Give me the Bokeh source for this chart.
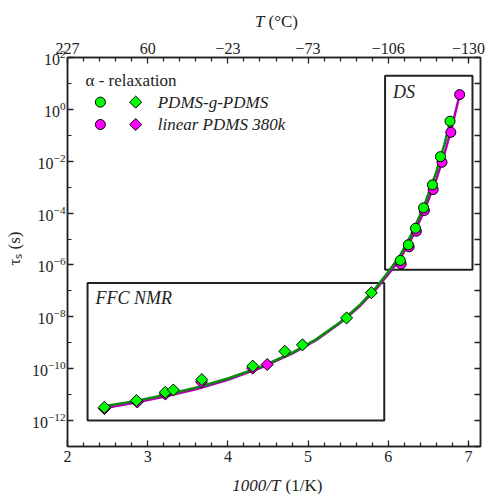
import math
from bokeh.plotting import figure
from bokeh.layouts import column, row
from bokeh.models import (LogAxis, LinearAxis, FixedTicker, Range1d, Label,
                          CustomJSTickFormatter)
from bokeh.embed import file_html
from bokeh.resources import INLINE

# ---- axis ticks -------------------------------------------------------
x_major = [2, 3, 4, 5, 6, 7]
x_minor = [2.2, 2.4, 2.6, 2.8, 3.2, 3.4, 3.6, 3.8, 4.2, 4.4, 4.6, 4.8,
           5.2, 5.4, 5.6, 5.8, 6.2, 6.4, 6.6, 6.8, 7.0, 7.2]
top_labels = ["227", "60", "\u221223", "\u221273", "\u2212106", "\u2212130"]
y_major = [1e-12, 1e-10, 1e-8, 1e-6, 1e-4, 1e-2, 1e0, 1e2]
y_minor = [1e-13, 1e-11, 1e-9, 1e-7, 1e-5, 1e-3, 1e-1, 1e1]
y_right = [1e-13, 1e-12, 1e-11, 1e-10, 1e-9, 1e-8, 1e-7, 1e-6, 1e-5,
           1e-4, 1e-3, 1e-2, 1e-1, 1e0, 1e1, 1e2]

# ---- FFC NMR (diamonds) -----------------------------------------------
ffc_graft_x = [2.46, 2.86, 3.22, 3.32, 3.675, 4.31, 4.71, 4.93, 5.48, 5.79]
ffc_graft_tau = [3.24e-12, 5.9e-12, 1.23e-11, 1.51e-11, 3.8e-11, 1.26e-10,
                 4.68e-10, 8.3e-10, 9.1e-9, 8.5e-8]
ffc_linear_x = [2.46, 2.87, 3.22, 3.67, 4.31, 4.49]
ffc_linear_tau = [2.9e-12, 5.2e-12, 1.05e-11, 3.1e-11, 1.05e-10, 1.45e-10]

# ---- DS (circles) -----------------------------------------------------
ds_graft_x = [6.15, 6.25, 6.34, 6.44, 6.55, 6.65, 6.77]
ds_graft_tau = [1.5e-6, 6.0e-6, 2.6e-5, 1.6e-4, 1.23e-3, 1.5e-2, 0.35]
ds_linear_x = [6.16, 6.26, 6.35, 6.45, 6.56, 6.67, 6.78, 6.89]
ds_linear_tau = [1.1e-6, 5.0e-6, 2.0e-5, 1.26e-4, 8.1e-4, 9.1e-3, 0.13, 3.7]

# ---- VFT fit curves ---------------------------------------------------
fit_graft_x = [2.45, 2.8, 3.2, 3.6, 4.0, 4.4, 4.8, 5.1, 5.4, 5.65, 5.85,
               6.0, 6.15, 6.3, 6.45, 6.6, 6.7, 6.78]
fit_graft_tau = [3.55e-12, 5.37e-12, 9.55e-12, 1.86e-11, 4.17e-11, 1.15e-10,
                 4.07e-10, 1.35e-9, 6.17e-9, 2.95e-8, 1.38e-7, 5.37e-7,
                 2.4e-6, 1.78e-5, 2.0e-4, 3.98e-3, 4.47e-2, 0.417]
fit_linear_x = [2.45, 2.8, 3.2, 3.6, 4.0, 4.4, 4.8, 5.1, 5.4, 5.65, 5.85,
                6.0, 6.15, 6.3, 6.45, 6.6, 6.7, 6.8, 6.89]
fit_linear_tau = [3.0e-12, 4.68e-12, 8.3e-12, 1.62e-11, 3.72e-11, 1.05e-10,
                  3.8e-10, 1.26e-9, 5.75e-9, 2.69e-8, 1.2e-7, 4.37e-7,
                  1.78e-6, 1.2e-5, 1.26e-4, 2.09e-3, 1.9e-2, 0.25, 3.7]

# ---- measurement windows ----------------------------------------------
box_left = [2.25, 5.96]
box_right = [5.95, 7.05]
box_bottom = [1e-12, 6.5e-7]
box_top = [2e-7, 20.0]
box_names = ["FFC NMR", "DS"]

GREEN = "#00ff00"
MAGENTA = "#ff00ff"
GREEN_LINE = "#0a8a0a"
MAGENTA_LINE = "#b000b0"
SERIF = "Liberation Serif"
AX = "#222222"
TXT = "#222222"

# overall page: a title strip above, a y-title strip at the left,
# and an x-title strip below the main plot
W, H = 488, 494
TOP_H, BOT_H, LEFT_W = 30, 20, 24
MAIN_W, MAIN_H = W - LEFT_W, H - TOP_H - BOT_H

p = figure(width=MAIN_W, height=MAIN_H, y_axis_type="log",
           x_range=Range1d(2, 7.15), y_range=Range1d(1e-13, 1e2),
           output_backend="svg", toolbar_location=None,
           min_border_left=67 - LEFT_W, min_border_right=8,
           min_border_top=57 - TOP_H, min_border_bottom=MAIN_H + TOP_H - 446)
p.xgrid.visible = False
p.ygrid.visible = False
p.outline_line_color = AX
p.outline_line_width = 1.5
p.background_fill_color = "white"
p.border_fill_color = "white"


def style_axis(ax):
    ax.axis_line_color = AX
    ax.axis_line_width = 1.5
    ax.major_tick_line_color = AX
    ax.minor_tick_line_color = AX
    ax.major_tick_line_width = 1.3
    ax.minor_tick_line_width = 1.2
    ax.major_tick_in = 6
    ax.major_tick_out = 0
    ax.minor_tick_in = 4
    ax.minor_tick_out = 0
    ax.major_label_text_font = SERIF
    ax.major_label_text_font_size = "16px"
    ax.major_label_text_color = TXT
    ax.major_label_standoff = 4


# bottom axis
xb = p.xaxis[0]
xb.ticker = FixedTicker(ticks=x_major, minor_ticks=x_minor)
style_axis(xb)

# left axis
yl = p.yaxis[0]
yl.ticker = FixedTicker(ticks=y_major, minor_ticks=y_minor)
style_axis(yl)
yl.major_label_standoff = 2

# top axis: temperature in deg C on the same 1000/T scale
xt = LinearAxis(ticker=FixedTicker(ticks=x_major, minor_ticks=x_minor),
                major_label_overrides={k: v for k, v in zip(x_major, top_labels)})
style_axis(xt)
p.add_layout(xt, "above")

# right axis: unlabeled decade ticks
yr = LogAxis(ticker=FixedTicker(ticks=y_right, minor_ticks=[]),
             formatter=CustomJSTickFormatter(code="return ''"))
style_axis(yr)
yr.major_label_standoff = 0
p.add_layout(yr, "right")

# measurement-window boxes
p.quad(left=box_left, right=box_right, bottom=box_bottom, top=box_top,
       fill_alpha=0, line_color=AX, line_width=2)

# fitted curves
p.line(fit_linear_x, fit_linear_tau, line_color=MAGENTA_LINE, line_width=2.5)
p.line(fit_graft_x, fit_graft_tau, line_color=GREEN_LINE, line_width=2.5)

# data points
p.scatter(ffc_linear_x, ffc_linear_tau, marker="square", angle=math.pi / 4,
          size=8.5, fill_color=MAGENTA, line_color="black", line_width=1)
p.scatter(ds_linear_x, ds_linear_tau, marker="circle", size=10,
          fill_color=MAGENTA, line_color="black", line_width=1)
p.scatter(ffc_graft_x, ffc_graft_tau, marker="square", angle=math.pi / 4,
          size=8.5, fill_color=GREEN, line_color="black", line_width=1)
p.scatter(ds_graft_x, ds_graft_tau, marker="circle", size=10,
          fill_color=GREEN, line_color="black", line_width=1)

# window names
p.add_layout(Label(x=2.35, y=5.1e-8, text=box_names[0], text_font=SERIF,
                   text_font_style="italic", text_font_size="18px",
                   text_baseline="middle", text_color=TXT))
p.add_layout(Label(x=6.06, y=4.5, text=box_names[1], text_font=SERIF,
                   text_font_style="italic", text_font_size="18px",
                   text_baseline="middle", text_color=TXT))

# legend
p.add_layout(Label(x=2.225, y=12.9, text="\u03b1 - relaxation", text_font=SERIF,
                   text_font_size="17px", text_baseline="middle",
                   text_color=TXT))
leg_y = [1.9, 0.26]
leg_fill = [GREEN, MAGENTA]
leg_names = ["PDMS-g-PDMS", "linear PDMS 380k"]
p.scatter([2.41, 2.41], leg_y, marker="circle", size=10,
          fill_color=leg_fill, line_color="black", line_width=1)
p.scatter([2.85, 2.85], leg_y, marker="square", angle=math.pi / 4, size=8.5,
          fill_color=leg_fill, line_color="black", line_width=1)
for yy, name in zip(leg_y, leg_names):
    p.add_layout(Label(x=3.125, y=yy, text=name, text_font=SERIF,
                       text_font_style="italic", text_font_size="17px",
                       text_baseline="middle", text_color=TXT))


def strip(w, h):
    s = figure(width=w, height=h, x_range=Range1d(0, w), y_range=Range1d(0, h),
               output_backend="svg", toolbar_location=None, min_border=0)
    s.axis.visible = False
    s.grid.visible = False
    s.outline_line_color = None
    s.background_fill_color = "white"
    s.border_fill_color = "white"
    return s


# top title: T (°C) -- italic symbol, upright unit
top = strip(W, TOP_H)
top.add_layout(Label(x=264, y=TOP_H - 21, text="T", text_font=SERIF,
                     text_font_style="italic", text_font_size="17px",
                     text_align="right", text_baseline="middle",
                     text_color=TXT))
top.add_layout(Label(x=268, y=TOP_H - 21, text="(\u00b0C)", text_font=SERIF,
                     text_font_size="17px", text_align="left",
                     text_baseline="middle", text_color=TXT))

# bottom title: 1000/T (1/K)
bot = strip(W, BOT_H)
bot.add_layout(Label(x=280, y=9, text="1000/T", text_font=SERIF,
                     text_font_style="italic", text_font_size="17px",
                     text_align="right", text_baseline="middle",
                     text_color=TXT))
bot.add_layout(Label(x=285, y=9, text="(1/K)", text_font=SERIF,
                     text_font_size="17px", text_align="left",
                     text_baseline="middle", text_color=TXT))

# left title: tau_s (s)
left = strip(LEFT_W, MAIN_H)
left.add_layout(Label(x=14, y=MAIN_H - (248 - TOP_H), text="\u03c4\u209b (s)",
                      text_font=SERIF, text_font_size="17px",
                      angle=math.pi / 2, text_align="center",
                      text_baseline="middle", text_color=TXT))

page = column(top, row(left, p, spacing=0), bot, spacing=0)
open("out.html", "w").write(file_html(page, INLINE))
